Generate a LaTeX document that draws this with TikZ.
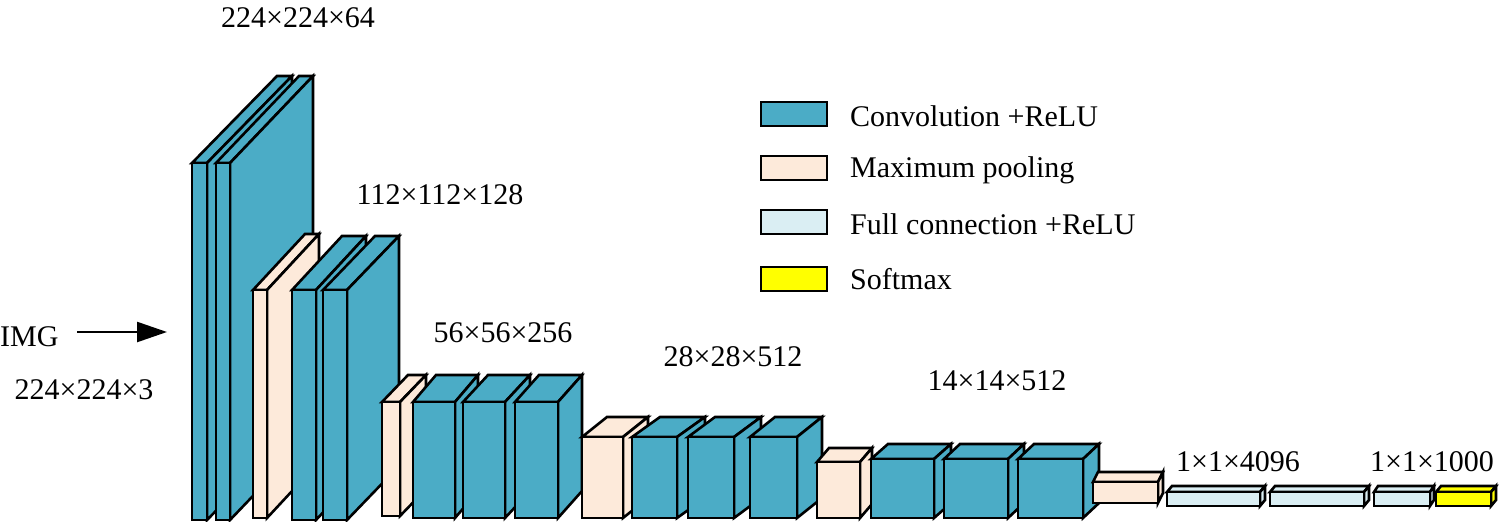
\documentclass[tikz,border=0pt]{standalone}
\usepackage{fontspec}
\setmainfont{Liberation Serif}
\usetikzlibrary{arrows.meta}
\definecolor{convc}{RGB}{75,172,198}
\definecolor{poolc}{RGB}{253,234,218}
\definecolor{fcc}{RGB}{218,238,243}
\definecolor{smc}{RGB}{255,255,0}
\newcommand\mycube[7]{%
  \filldraw[blk,fill=#7] (#1,#3) -- (#1+#5,#3-#6) -- (#2+#5,#3-#6) -- (#2,#3) -- cycle;
  \filldraw[blk,fill=#7] (#2,#3) -- (#2+#5,#3-#6) -- (#2+#5,#4-#6) -- (#2,#4) -- cycle;
  \filldraw[blk,fill=#7] (#1,#3) rectangle (#2,#4);}
\begin{document}
\begin{tikzpicture}[x=1pt,y=-1pt,
  blk/.style={draw=black,line width=2.6pt,line join=miter},
  lab/.style={font=\fontsize{30}{32}\selectfont,inner sep=0pt},
  leg/.style={blk,minimum width=66pt,minimum height=24pt,inner sep=0pt}]
\useasboundingbox (0,0) rectangle (1500,522);
\mycube{192}{207}{163}{520}{85}{87}{convc}
\mycube{216}{230}{163}{520}{83}{87}{convc}
\mycube{253}{267}{290}{518}{52}{56}{poolc}
\mycube{292}{316}{290}{520}{50}{54}{convc}
\mycube{323}{347}{290}{520}{52}{54}{convc}
\mycube{382}{400}{402}{516}{26}{27}{poolc}
\mycube{413}{455}{402}{518}{23}{27}{convc}
\mycube{463}{505}{402}{518}{25}{27}{convc}
\mycube{515}{558}{402}{518}{24}{27}{convc}
\mycube{582}{623}{437}{518}{25}{20}{poolc}
\mycube{632}{677}{437}{518}{28}{20}{convc}
\mycube{688}{734}{437}{518}{27}{20}{convc}
\mycube{750}{797}{437}{518}{25}{20}{convc}
\mycube{817}{860}{462}{518}{12}{14}{poolc}
\mycube{871}{934}{459}{518}{17}{15}{convc}
\mycube{944}{1008}{459}{518}{16}{15}{convc}
\mycube{1018}{1083}{459}{518}{16}{15}{convc}
\mycube{1093}{1158}{482}{503}{5}{10}{poolc}
\mycube{1167}{1260}{492}{506}{5}{6}{fcc}
\mycube{1270}{1364}{492}{506}{5}{6}{fcc}
\mycube{1374}{1430}{492}{506}{4}{6}{fcc}
\mycube{1436}{1491}{492}{506}{5}{6}{smc}
\node[lab] (t1) at (298,18) {224×224×64};
\node[lab] (t2) at (440,195) {112×112×128};
\node[lab] (t3) at (503,333) {56×56×256};
\node[lab] (t4) at (733,357) {28×28×512};
\node[lab] (t5) at (997,381) {14×14×512};
\node[lab] (t6) at (1238,462) {1×1×4096};
\node[lab] (t7) at (1432,462) {1×1×1000};
\node[lab,anchor=west] (img) at (0,337) {IMG};
\node[lab] (t0) at (84,390) {224×224×3};
\coordinate (atail) at (77,332);
\coordinate (ahead) at (167,332);
\draw[line width=2.4pt,-{Triangle[length=30pt,width=20pt]}] (atail) -- (ahead);
\node[leg,fill=convc] (l1) at (794,114) {};
\node[leg,fill=poolc] (l2) at (794,168) {};
\node[leg,fill=fcc] (l3) at (794,222) {};
\node[leg,fill=smc] (l4) at (794,279) {};
\node[lab,anchor=west] at (850,116) {Convolution +ReLU};
\node[lab,anchor=west] at (850,170) {Maximum pooling};
\node[lab,anchor=west] at (850,224) {Full connection +ReLU};
\node[lab,anchor=west] at (850,279) {Softmax};
\end{tikzpicture}
\end{document}
